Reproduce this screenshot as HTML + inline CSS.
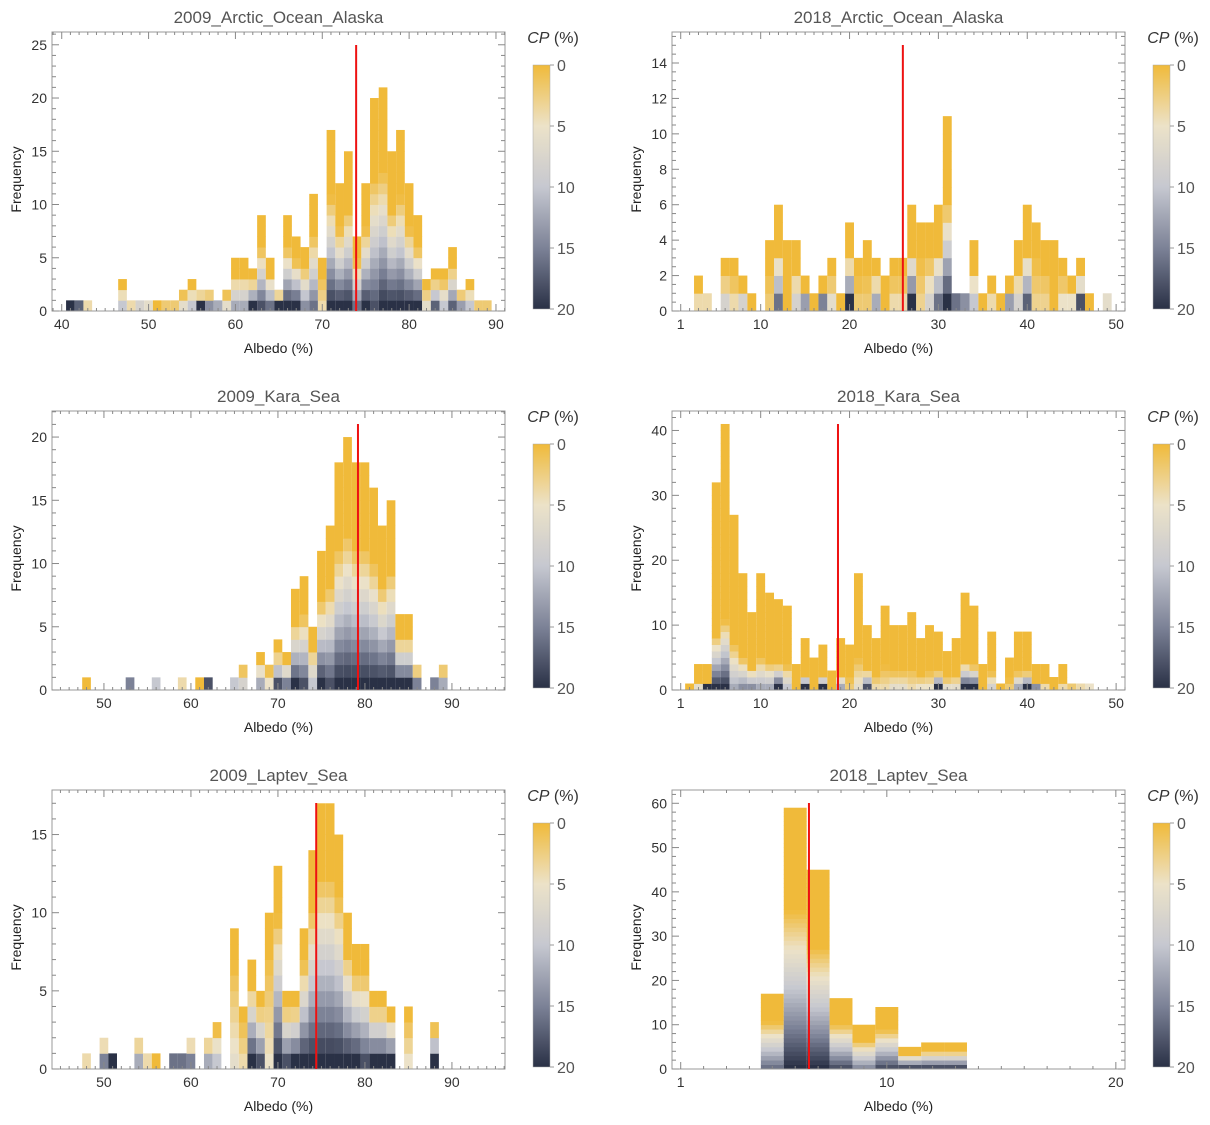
<!DOCTYPE html>
<html><head><meta charset="utf-8"><style>
body{margin:0;background:#fff;}
svg{display:block;font-family:"Liberation Sans",Arial,sans-serif;}
</style></head><body>
<svg id="chart" width="1210" height="1125" viewBox="0 0 1210 1125" xmlns="http://www.w3.org/2000/svg"></svg>
<script>
// ---- data ----
const p1Bins=[41,42,43,47,48,49,50,51,52,53,54,55,56,57,58,59,60,61,62,63,64,65,66,67,68,69,70,71,72,73,74,75,76,77,78,79,80,81,82,83,84,85,86,87,88,89];
const p1Counts=[1,1,1,3,1,1,1,1,1,1,2,3,2,2,1,2,5,5,4,9,5,2,9,7,6,11,5,17,12,15,7,12,20,21,15,17,12,9,3,4,4,6,2,3,1,1];
const p1Cp=[20,17,4,10,4,8,6,0,2,2,6,10,20,14,12,6,12,12,20,18,16,20,20,20,14,16,4,20,20,20,16,20,18,20,20,20,20,20,6,17,10,17,13,10,2,2];
const p1Mean=73.9;

const p2Bins=[3,4,6,7,8,9,11,12,13,14,15,16,17,18,19,20,21,22,23,24,25,26,27,28,29,30,31,32,33,34,35,36,37,38,39,40,41,42,43,44,45,46,47,49];
const p2Counts=[2,1,3,3,2,1,4,6,4,4,2,1,2,3,1,5,3,4,3,2,3,3,6,5,5,6,11,1,1,4,1,2,1,2,4,6,5,4,4,3,2,3,1,1];
const p2Cp=[4,4,8,4,8,0,2,16,0,8,13,0,15,6,0,20,2,2,12,0,4,4,20,3,8,16,20,16,14,10,0,4,0,13,8,17,3,3,0,5,5,18,0,6];
const p2Mean=26.0;

const p3Bins=[48,53,56,59,61,62,65,66,68,69,70,71,72,73,74,75,76,77,78,79,80,81,82,83,84,85,86,88,89];
const p3Counts=[1,1,1,1,1,1,1,2,3,2,4,3,8,9,5,11,13,18,20,18,18,16,13,15,6,6,2,1,2];
const p3Cp=[0,15,10,4,0,18,10,8,12,5,18,15,20,18,10,20,18,20,20,20,20,20,20,20,20,20,15,15,12];
const p3Mean=79.2;

const p4Bins=[2,3,4,5,6,7,8,9,10,11,12,13,14,15,16,17,18,19,20,21,22,23,24,25,26,27,28,29,30,31,32,33,34,35,36,37,38,39,40,41,42,43,44,45,46,47];
const p4Counts=[1,4,4,32,41,27,18,12,18,15,14,13,4,8,5,7,3,8,7,18,10,8,13,10,10,12,8,10,9,6,8,15,13,4,9,1,5,9,9,4,4,2,4,1,1,1];
const p4Cp=[0,6,20,20,20,12,14,14,12,12,20,10,0,20,0,20,0,12,2,6,18,4,4,6,6,4,5,5,20,6,6,20,20,0,8,0,2,12,20,14,4,0,4,2,4,5];
const p4Mean=18.7;

const p5Bins=[48,50,51,54,55,56,58,59,60,62,63,65,66,67,68,69,70,71,72,73,74,75,76,77,78,79,80,81,82,83,85,88];
const p5Counts=[1,2,1,2,1,1,1,1,2,2,3,9,4,7,5,10,13,5,5,9,14,17,17,15,10,8,8,5,5,4,4,3];
const p5Cp=[4,15,20,12,4,0,16,16,15,12,10,6,4,20,18,5,20,18,20,20,20,20,20,20,20,20,18,20,20,20,5,20];
const p5Mean=74.4;

const p6Bins=[5,6,7,8,9,10,11,12,13];
const p6Counts=[17,59,45,16,10,14,5,6,6];
const p6Cp=[16,20,20,18,14,18,18,18,18];
const p6Mean=6.6;

const titles=["2009_Arctic_Ocean_Alaska","2018_Arctic_Ocean_Alaska","2009_Kara_Sea","2018_Kara_Sea","2009_Laptev_Sea","2018_Laptev_Sea"];
const yTicks1=[0,5,10,15,20,25], yTicks2=[0,2,4,6,8,10,12,14], yTicks3=[0,5,10,15,20], yTicks4=[0,10,20,30,40], yTicks5=[0,5,10,15], yTicks6=[0,10,20,30,40,50,60];
const xTicksA=[40,50,60,70,80,90], xTicksB=[1,10,20,30,40,50], xTicksC=[50,60,70,80,90], xTicksD=[1,10,20];
const cbTicks=[0,5,10,15,20];

const panels=[
 {bins:p1Bins,counts:p1Counts,cp:p1Cp,mean:p1Mean,x0:38.88,x1:91.04,ymax:26.2,yt:yTicks1,ymin:1,xt:xTicksA,span:0.6,L:52,T:32},
 {bins:p2Bins,counts:p2Counts,cp:p2Cp,mean:p2Mean,x0:0.02,x1:51.0,ymax:15.75,yt:yTicks2,ymin:0.5,xt:xTicksB,span:0.5,L:672,T:32},
 {bins:p3Bins,counts:p3Counts,cp:p3Cp,mean:p3Mean,x0:44.03,x1:96.1,ymax:22.06,yt:yTicks3,ymin:1,xt:xTicksC,span:0.6,L:52,T:411},
 {bins:p4Bins,counts:p4Counts,cp:p4Cp,mean:p4Mean,x0:0.02,x1:51.0,ymax:43.0,yt:yTicks4,ymin:2,xt:xTicksB,span:0.25,L:672,T:411},
 {bins:p5Bins,counts:p5Counts,cp:p5Cp,mean:p5Mean,x0:44.03,x1:96.1,ymax:17.85,yt:yTicks5,ymin:1,xt:xTicksC,span:0.7,L:52,T:790},
 {bins:p6Bins,counts:p6Counts,cp:p6Cp,mean:p6Mean,x0:0.62,x1:20.4,ymax:63,yt:yTicks6,ymin:2,xt:xTicksD,span:0.6,L:672,T:790}
];
const W=453,H=279;
const stops=[[0,[240,186,58]],[5,[236,226,200]],[10,[198,200,208]],[15,[124,130,151]],[20,[42,49,70]]];
function cpColor(c){
  c=Math.max(0,Math.min(20,c));
  for(let i=0;i<stops.length-1;i++){
    const [a,ca]=stops[i],[b,cb]=stops[i+1];
    if(c<=b){const t=(c-a)/(b-a);return 'rgb('+ca.map((v,k)=>Math.round(v+(cb[k]-v)*t)).join(',')+')';}
  }
  return 'rgb(42,49,70)';
}
const svg=document.getElementById('chart');
const NS='http://www.w3.org/2000/svg';
function el(tag,attrs,parent){const e=document.createElementNS(NS,tag);for(const k in attrs)e.setAttribute(k,attrs[k]);(parent||svg).appendChild(e);return e;}

const defs=el('defs',{});
const grad=el('linearGradient',{id:'cbgrad',x1:0,y1:0,x2:0,y2:1},defs);
for(let c=0;c<=20;c+=1){el('stop',{offset:(c/20),'stop-color':cpColor(c)},grad);}

panels.forEach((p,pi)=>{
  const g=el('g',{});
  
  
  const L=p.L,T=p.T,B=T+H,R=L+W;
  const xs=v=>L+(v-p.x0)/(p.x1-p.x0)*W;
  const ys=v=>B-v/p.ymax*H;
  p.bins.forEach((b,i)=>{
    const n=p.counts[i];
    const bg=el('g',{},g);
    
    
    const xa=xs(b-0.5),xb=xs(b+0.5);
    for(let k=0;k<n;k++){
      let c;
      if(n===1)c=p.cp[i];
      else c=p.cp[i]*Math.max(0,1-k/Math.max(1,p.span*n));
      const r=el('rect',{x:xa,y:ys(k+1),width:xb-xa,height:ys(k)-ys(k+1)+0.4,fill:cpColor(c)},bg);
      
      
    }
  });
  const fr=el('rect',{x:L,y:T,width:W,height:H,fill:'none',stroke:'#999','stroke-width':1},g);
  
  
  const ystep=p.yt[1]-p.yt[0];
  for(let v=0;v<=p.ymax+1e-6;v+=p.ymin){
    const major=Math.abs(v/ystep-Math.round(v/ystep))<1e-6;
    const len=major?7:4;
    el('line',{x1:L,x2:L+len,y1:ys(v),y2:ys(v),stroke:'#888','stroke-width':1},g);
    el('line',{x1:R,x2:R-len,y1:ys(v),y2:ys(v),stroke:'#888','stroke-width':1},g);
  }
  p.yt.forEach(v=>{
    const t=el('text',{x:L-5,y:ys(v)+5,'text-anchor':'end','font-size':14,fill:'#333'},g);
    t.textContent=v;
    
    
  });
  for(let v=Math.ceil(p.x0);v<=p.x1;v+=1){
    const major=p.xt.indexOf(v)>=0;
    const len=major?7:3;
    el('line',{x1:xs(v),x2:xs(v),y1:B,y2:B-len,stroke:'#888','stroke-width':1},g);
    el('line',{x1:xs(v),x2:xs(v),y1:T,y2:T+len,stroke:'#888','stroke-width':1},g);
  }
  p.xt.forEach(v=>{
    const t=el('text',{x:xs(v),y:B+18,'text-anchor':'middle','font-size':14,fill:'#333'},g);
    t.textContent=v;
    
    
  });
  const ml=el('line',{x1:xs(p.mean),x2:xs(p.mean),y1:T+13,y2:B,stroke:'#ee1111','stroke-width':2},g);
  
  
  const tt=el('text',{x:L+W/2,y:T-9,'text-anchor':'middle','font-size':17,fill:'#555'},g);
  tt.textContent=titles[pi];
  
  
  const xl=el('text',{x:L+W/2,y:B+42,'text-anchor':'middle','font-size':14,fill:'#222'},g);
  xl.textContent='Albedo (%)';
  
  
  const yl=el('text',{x:0,y:0,'text-anchor':'middle','font-size':14,fill:'#222',transform:'translate('+(L-31)+','+(T+H/2+8)+') rotate(-90)'},g);
  yl.textContent='Frequency';
  
  
  const cx=R+28,cy0=T+33,cy1=B-2;
  const cb=el('rect',{x:cx,y:cy0,width:17,height:cy1-cy0,fill:'url(#cbgrad)',stroke:'#aaa','stroke-width':0.5},g);
  
  
  cbTicks.forEach(c=>{
    const yy=cy0+c/20*(cy1-cy0);
    el('line',{x1:cx+17,x2:cx+21,y1:yy,y2:yy,stroke:'#999','stroke-width':1},g);
    const t=el('text',{x:cx+24,y:yy+6,'font-size':16,fill:'#555'},g);
    t.textContent=c;
    
    
  });
  const ct=el('text',{x:cx+20,y:T+11,'text-anchor':'middle','font-size':16,fill:'#333'},g);
  ct.innerHTML='<tspan font-style="italic">CP</tspan> (%)';
  
  
});
</script>
</body></html>
